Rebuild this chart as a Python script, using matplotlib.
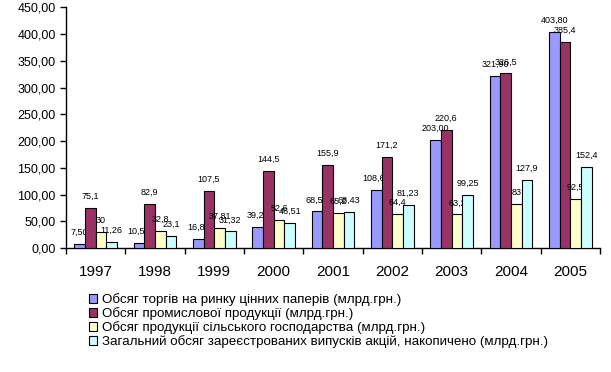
import numpy as np
import matplotlib
matplotlib.use("Agg")
import matplotlib.pyplot as plt
from matplotlib.ticker import FuncFormatter, MultipleLocator

years = ["1997", "1998", "1999", "2000", "2001", "2002", "2003", "2004", "2005"]

trade = [7.50, 10.50, 16.82, 39.20, 68.50, 108.60, 203.00, 321.90, 403.80]
industry = [75.1, 82.9, 107.5, 144.5, 155.9, 171.2, 220.6, 326.5, 385.4]
agro = [30, 32.8, 37.81, 52.6, 65.2, 64.4, 63.2, 83, 92.5]
shares = [11.26, 23.1, 31.32, 46.51, 68.43, 81.23, 99.25, 127.9, 152.4]

names = [
    "Обсяг торгів на ринку цінних паперів (млрд.грн.)",
    "Обсяг промислової продукції (млрд.грн.)",
    "Обсяг продукції сільського господарства (млрд.грн.)",
    "Загальний обсяг зареєстрованих випусків акцій, накопичено (млрд.грн.)",
]

COLORS = ["#9999FF", "#993366", "#FFFFCC", "#CCFFFF"]
LABEL_FONT = ["Liberation Sans Narrow", "Liberation Sans", "DejaVu Sans"]

plt.rcParams["font.family"] = ["Liberation Sans", "DejaVu Sans"]

fig = plt.figure(figsize=(6.11, 3.72), dpi=100)
ax = fig.add_axes([0.108, 0.333, 0.874, 0.647])

x = np.arange(len(years))
w = 0.18
series = [trade, industry, agro, shares]
fmts = [lambda v: f"{v:.2f}".replace(".", ","),
        lambda v: f"{v:g}".replace(".", ","),
        lambda v: f"{v:g}".replace(".", ","),
        lambda v: f"{v:g}".replace(".", ",")]

for i, (vals, col, name, fmt) in enumerate(zip(series, COLORS, names, fmts)):
    pos = x + (i - 1.5) * w
    ax.bar(pos, vals, width=w, color=col, edgecolor="black", linewidth=0.8,
           label=name, zorder=3)
    for px, v in zip(pos, vals):
        ax.annotate(fmt(v), xy=(px, v), xytext=(0, 5), textcoords="offset points",
                    ha="center", va="bottom", fontsize=6.5, family=LABEL_FONT)

ax.set_xlim(-0.5, len(years) - 0.5)
ax.set_ylim(0, 450)
ax.yaxis.set_major_locator(MultipleLocator(50))
ax.yaxis.set_major_formatter(FuncFormatter(lambda v, _: f"{v:.2f}".replace(".", ",")))

ax.set_xticks(x)
ax.set_xticklabels(years, fontsize=11)
ax.set_xticks(np.arange(-0.5, len(years)), minor=True)
ax.tick_params(axis="x", which="major", length=0, pad=12)
ax.tick_params(axis="x", which="minor", length=4, width=1, direction="out")
ax.tick_params(axis="y", length=4, width=1, direction="out", labelsize=9)

for s in ("top", "right"):
    ax.spines[s].set_visible(False)
for s in ("left", "bottom"):
    ax.spines[s].set_linewidth(1)
    ax.spines[s].set_color("black")

leg = ax.legend(loc="upper left", bbox_to_anchor=(0.033, -0.165), frameon=False,
                fontsize=9.6, handlelength=0.6, handleheight=0.6,
                handletextpad=0.4, labelspacing=0.08, borderaxespad=0)

fig.savefig("out.png", dpi=100)
